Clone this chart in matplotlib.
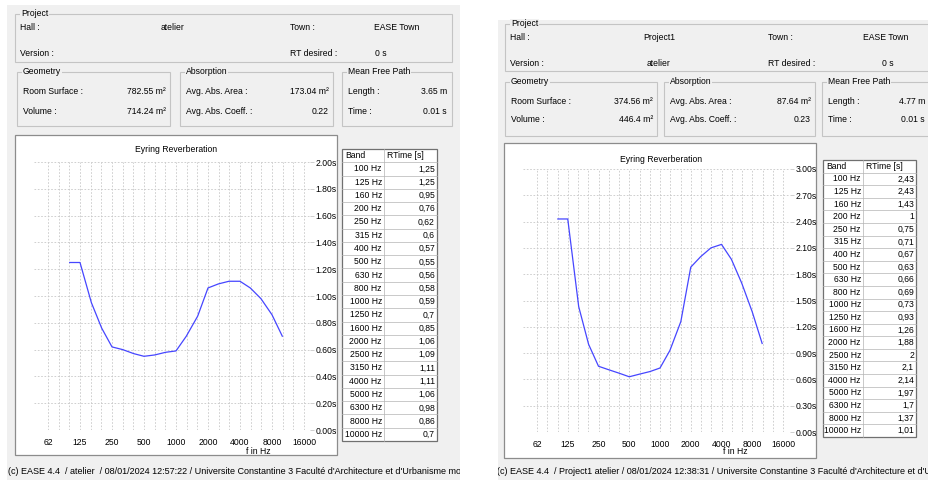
import numpy as np
import matplotlib
matplotlib.use("Agg")
import matplotlib.pyplot as plt
from matplotlib.patches import Rectangle
from matplotlib.ticker import NullFormatter

plt.rcParams['font.family'] = ['Liberation Sans', 'DejaVu Sans']
FS = 6.2
W, H = 929, 480
GRIS = '#f0f0f0'

# --- dades llegides de la captura ---
bands = ['100 Hz', '125 Hz', '160 Hz', '200 Hz', '250 Hz', '315 Hz', '400 Hz',
         '500 Hz', '630 Hz', '800 Hz', '1000 Hz', '1250 Hz', '1600 Hz', '2000 Hz',
         '2500 Hz', '3150 Hz', '4000 Hz', '5000 Hz', '6300 Hz', '8000 Hz', '10000 Hz']
band_freqs = [100, 125, 160, 200, 250, 315, 400, 500, 630, 800, 1000, 1250, 1600,
              2000, 2500, 3150, 4000, 5000, 6300, 8000, 10000]
rt_atelier = [1.25, 1.25, 0.95, 0.76, 0.62, 0.6, 0.57, 0.55, 0.56, 0.58, 0.59,
              0.7, 0.85, 1.06, 1.09, 1.11, 1.11, 1.06, 0.98, 0.86, 0.7]
rt_project1 = [2.43, 2.43, 1.43, 1, 0.75, 0.71, 0.67, 0.63, 0.66, 0.69, 0.73,
               0.93, 1.26, 1.88, 2, 2.1, 2.14, 1.97, 1.7, 1.37, 1.01]
octave_ticks = [62.5, 125, 250, 500, 1000, 2000, 4000, 8000, 16000]
octave_labels = ['62', '125', '250', '500', '1000', '2000', '4000', '8000', '16000']

info_atelier = {
    'hall': 'atelier', 'version': '', 'town': 'EASE Town', 'rt_desired': '0 s',
    'surface': '782.55 m²', 'volume': '714.24 m²',
    'abs_area': '173.04 m²', 'abs_coeff': '0.22',
    'mfp_length': '3.65 m', 'mfp_time': '0.01 s',
    'footer': "(c) EASE 4.4  / atelier  / 08/01/2024 12:57:22 / Universite Constantine 3 "
              "Faculté d'Architecture et d'Urbanisme mouhoub",
}
info_project1 = {
    'hall': 'Project1', 'version': 'atelier', 'town': 'EASE Town', 'rt_desired': '0 s',
    'surface': '374.56 m²', 'volume': '446.4 m²',
    'abs_area': '87.64 m²', 'abs_coeff': '0.23',
    'mfp_length': '4.77 m', 'mfp_time': '0.01 s',
    'footer': "(c) EASE 4.4  / Project1 atelier / 08/01/2024 12:38:31 / Universite Constantine 3 "
              "Faculté d'Architecture et d'Urbanisme",
}

# --- posicions en pixels de cada panell (x, y des de dalt) ---
lay_left = dict(bg=(7, 5, 460, 480), proj=(15, 14, 452, 62), row1=28, row2=53,
                hall_x=173, town_lbl=290, town_x=397, rt_x=381,
                grp_y=(72, 126), geo=(17, 170), absb=(180, 333), mfp=(342, 452),
                grow1=92, grow2=111, mfp_val_r=447,
                chart=(15, 135, 337, 455), plot=(34, 162, 310, 430), x62=48, x16k=304,
                title=(176, 150), fhz=(258, 452),
                table=(342, 149, 437, 441), tdiv=384, footer=(8, 471))
lay_right = dict(bg=(498, 20, 929, 480), proj=(505, 24, 940, 71), row1=38, row2=63,
                 hall_x=659, town_lbl=768, town_x=886, rt_x=888,
                 grp_y=(82, 136), geo=(505, 657), absb=(664, 815), mfp=(822, 940),
                 grow1=101, grow2=120, mfp_val_r=925,
                 chart=(504, 143, 816, 458), plot=(523, 169, 790, 432), x62=537, x16k=783,
                 title=(661, 159), fhz=(735, 452),
                 table=(823, 160, 916, 437), tdiv=863, footer=(497, 471))


def frac(x0, y0, x1, y1):
    return [x0 / W, 1 - y1 / H, (x1 - x0) / W, (y1 - y0) / H]


def group_box(pax, x0, y0, x1, y1, label):
    pax.add_patch(Rectangle((x0, y0), x1 - x0, y1 - y0, fill=False,
                            ec='#c4c4c4', lw=0.8))
    pax.text(x0 + 6, y0, label, fontsize=FS, va='center', ha='left',
             bbox=dict(fc=GRIS, ec='none', pad=0.6))


def draw_panel(fig, L, info, rt, ymax, ystep):
    bx0, by0, bx1, by1 = L['bg']
    pax = fig.add_axes(frac(*L['bg']))
    pax.set_xlim(bx0, bx1)
    pax.set_ylim(by1, by0)
    pax.axis('off')
    pax.add_patch(Rectangle((bx0, by0), bx1 - bx0, by1 - by0, fc=GRIS, ec='none'))

    # Project
    px0, py0, px1, py1 = L['proj']
    group_box(pax, px0, py0, px1, py1, 'Project')
    kw = dict(fontsize=FS, va='center')
    pax.text(px0 + 5, L['row1'], 'Hall :', **kw)
    pax.text(L['hall_x'], L['row1'], info['hall'], ha='center', **kw)
    pax.text(L['town_lbl'], L['row1'], 'Town :', **kw)
    pax.text(L['town_x'], L['row1'], info['town'], ha='center', **kw)
    pax.text(px0 + 5, L['row2'], 'Version :', **kw)
    pax.text(L['hall_x'], L['row2'], info['version'], ha='center', **kw)
    pax.text(L['town_lbl'], L['row2'], 'RT desired :', **kw)
    pax.text(L['rt_x'], L['row2'], info['rt_desired'], ha='center', **kw)

    gy0, gy1 = L['grp_y']
    boxes = [(L['geo'], 'Geometry', ('Room Surface :', 'Volume :'),
              (info['surface'], info['volume']), L['geo'][1] - 4),
             (L['absb'], 'Absorption', ('Avg. Abs. Area :', 'Avg. Abs. Coeff. :'),
              (info['abs_area'], info['abs_coeff']), L['absb'][1] - 4),
             (L['mfp'], 'Mean Free Path', ('Length :', 'Time :'),
              (info['mfp_length'], info['mfp_time']), L['mfp_val_r'])]
    for (x0, x1), title, labels, values, xr in boxes:
        group_box(pax, x0, gy0, x1, gy1, title)
        for yy, lab, val in zip((L['grow1'], L['grow2']), labels, values):
            pax.text(x0 + 6, yy, lab, **kw)
            pax.text(xr, yy, val, ha='right', **kw)

    # marc del gràfic
    cx0, cy0, cx1, cy1 = L['chart']
    pax.add_patch(Rectangle((cx0, cy0), cx1 - cx0, cy1 - cy0, fc='white',
                            ec='#8c8c8c', lw=0.9))
    pax.text(L['title'][0], L['title'][1], 'Eyring Reverberation', ha='center', **kw)
    pax.text(L['fhz'][0], L['fhz'][1], 'f in Hz', ha='center', **kw)

    # taula Band / RTime
    tx0, ty0, tx1, ty1 = L['table']
    nrows = len(bands) + 1
    rh = (ty1 - ty0) / nrows
    pax.add_patch(Rectangle((tx0, ty0), tx1 - tx0, ty1 - ty0, fc='white',
                            ec='#707070', lw=0.9, zorder=3))
    for i in range(1, nrows):
        pax.plot([tx0, tx1], [ty0 + i * rh] * 2, color='#b4b4b4', lw=0.5, zorder=4)
    pax.plot([L['tdiv']] * 2, [ty0, ty1], color='#b4b4b4', lw=0.5, zorder=4)
    pax.text(tx0 + 3, ty0 + rh / 2, 'Band', zorder=5, **kw)
    pax.text(L['tdiv'] + 3, ty0 + rh / 2, 'RTime [s]', zorder=5, **kw)
    for i, (b, v) in enumerate(zip(bands, rt)):
        yy = ty0 + (i + 1.5) * rh
        pax.text(L['tdiv'] - 2, yy, b, ha='right', zorder=5, **kw)
        pax.text(tx1 - 2, yy, f'{v:g}'.replace('.', ','), ha='right', zorder=5, **kw)

    pax.text(L['footer'][0], L['footer'][1], info['footer'], clip_on=True,
             fontsize=6.5, va='center', ha='left')

    # gràfic de reverberació
    ax0, ay0, ax1, ay1 = L['plot']
    cax = fig.add_axes(frac(*L['plot']))
    cax.set_facecolor('none')
    octave_px = (L['x16k'] - L['x62']) / 8.0
    cax.set_xscale('log', base=2)
    cax.set_xlim(octave_ticks[0] * 2 ** ((ax0 - L['x62']) / octave_px),
                 octave_ticks[-1] * 2 ** ((ax1 - L['x16k']) / octave_px))
    cax.set_ylim(0, ymax)
    cax.set_xticks(octave_ticks)
    cax.set_xticklabels(octave_labels)
    cax.set_xticks([octave_ticks[0] * 2 ** (k / 3) for k in range(25)], minor=True)
    cax.xaxis.set_minor_formatter(NullFormatter())
    yt = np.round(np.arange(0, ymax + ystep / 2, ystep), 2)
    cax.set_yticks(yt)
    cax.set_yticklabels([f'{v:.2f}s' for v in yt])
    cax.yaxis.tick_right()
    cax.tick_params(axis='x', which='both', length=0, pad=6, labelsize=FS)
    cax.tick_params(axis='y', length=3, width=0.6, color='#c8c8c8', pad=1,
                    labelsize=FS)
    for s in cax.spines.values():
        s.set_visible(False)
    cax.grid(True, which='both', color='#c8c8c8', lw=0.6, linestyle=(0, (2, 2)))
    cax.set_axisbelow(True)
    cax.plot(band_freqs, rt, color='#4646ff', lw=0.9)


fig = plt.figure(figsize=(W / 100, H / 100), dpi=100)
fig.patch.set_facecolor('white')
draw_panel(fig, lay_left, info_atelier, rt_atelier, 2.0, 0.2)
draw_panel(fig, lay_right, info_project1, rt_project1, 3.0, 0.3)
fig.savefig('out.png', dpi=100)
